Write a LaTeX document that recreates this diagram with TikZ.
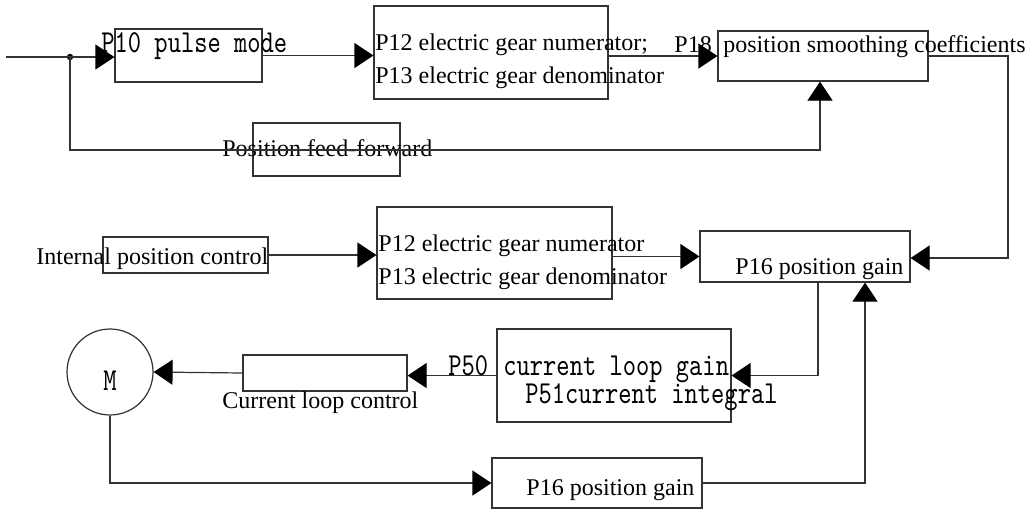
\documentclass[tikz,border=0pt]{standalone}
\usepackage{fontspec}
\setmainfont{Liberation Serif}
\newfontfamily\simmono[FakeStretch=0.79]{lmmono10-regular.otf}
\usetikzlibrary{arrows.meta,calc}

\tikzset{
  box/.style={draw=black!80, line width=0.6pt, inner sep=0pt},
  txt/.style={anchor=base west, inner sep=0pt, font=\fontsize{12}{14}\selectfont},
  mono/.style={anchor=base west, inner sep=0pt, font=\simmono\fontsize{16}{18}\selectfont},
  link/.style={draw=black!80, line width=0.6pt},
  arr/.style={link, -{Triangle[length=9.5pt,width=12.5pt,color=black]}}
}

\begin{document}
\begin{tikzpicture}[x=0.5pt, y=-0.5pt]
    \useasboundingbox (0,0) rectangle (1033,510);

    % blocks
    \node[box, minimum width=73.5pt, minimum height=26.5pt] (pulse) at (188.5,55.5) {};
    \node[box, minimum width=117pt, minimum height=46.5pt] (gearA) at (491,52.5) {};
    \node[box, minimum width=105pt, minimum height=25pt] (smooth) at (823,56) {};
    \node[box, minimum width=73.5pt, minimum height=26.5pt] (ffwd) at (326.5,149.5) {};
    \node[box, minimum width=82.5pt, minimum height=18pt] (intpos) at (185.5,255) {};
    \node[box, minimum width=117.5pt, minimum height=46pt] (gearB) at (494.5,253) {};
    \node[box, minimum width=105pt, minimum height=25.5pt] (gainA) at (805,256.5) {};
    \node[box, minimum width=117pt, minimum height=46.5pt] (curgain) at (614,375.5) {};
    \node[box, minimum width=82pt, minimum height=18pt] (curctl) at (325,373) {};
    \node[box, circle, minimum size=43pt] (motor) at (110,372) {};
    \node[box, minimum width=105pt, minimum height=25pt] (gainB) at (597,483) {};

    % texts
    \node[mono] (tpulse) at (101,52) {P10 pulse mode};
    \node[txt] (tnumA) at (375,50) {P12 electric gear numerator;};
    \node[txt] (tdenA) at (375,83) {P13 electric gear denominator};
    \node[txt] (tpeight) at (674,52) {P18};
    \node[txt] (tsmooth) at (723,52) {position smoothing coefficients};
    \node[txt] (tffwd) at (222,156) {Position feed-forward};
    \node[txt] (tintpos) at (36,264) {Internal position control};
    \node[txt] (tnumB) at (378,251) {P12 electric gear numerator};
    \node[txt] (tdenB) at (378,284) {P13 electric gear denominator};
    \node[txt] (tgainA) at (735,274) {P16 position gain};
    \node[mono] (tfifty) at (448,375) {P50};
    \node[mono] (tcurgain) at (503,375) {current loop gain};
    \node[mono] (tcurint) at (525,403) {P51current integral};
    \node[txt] (tcurctl) at (222,408) {Current loop control};
    \node[txt] (tgainB) at (526,495) {P16 position gain};
    \node[mono, anchor=base] (tmotor) at (110,390) {M};

    % connectors
    \coordinate (in) at (6,57);
    \coordinate (split) at (70,57);
    \coordinate (ffturn) at (820,150);
    \coordinate (rturn) at (1008,258);
    \fill[black] (split) circle (1.6pt);
    \draw[arr] (in) -- (in -| pulse.west);
    \draw[arr] (pulse.east) -- (pulse.east -| gearA.west);
    \draw[arr] (smooth.west -| gearA.east) -- (smooth.west);
    \draw[arr] (split) |- (ffturn) -- (ffturn |- smooth.south);
    \draw[arr] (smooth.east) -| (rturn) -- (rturn -| gainA.east);
    \draw[arr] (intpos.east) -- (intpos.east -| gearB.west);
    \draw[arr] (gainA.west -| gearB.east) -- (gainA.west);
    \draw[arr] ($(gainA.south)+(13,0)$) |- (curgain.east);
    \draw[arr] (curgain.west) -- (curgain.west -| curctl.east);
    \draw[arr] (curctl.west) -- (motor.east);
    \draw[arr] (motor.south) |- (gainB.west);
    \draw[arr] (gainB.east) -| ($(gainA.south)+(60,0)$);
\end{tikzpicture}
\end{document}
